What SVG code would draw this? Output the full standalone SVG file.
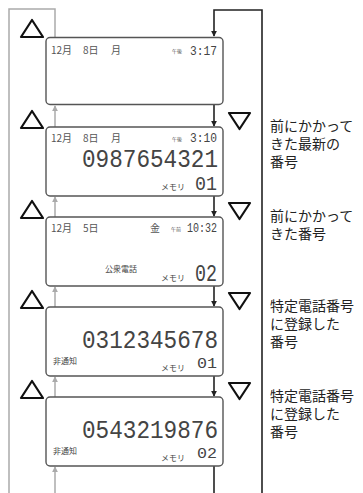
<svg xmlns="http://www.w3.org/2000/svg" width="363" height="493" viewBox="0 0 363 493">
<defs>
<marker id="ab" viewBox="0 0 8 8" refX="7" refY="4" markerWidth="6" markerHeight="6" orient="auto" markerUnits="userSpaceOnUse"><path d="M0,0 L8,4 L0,8 z" fill="#222"/></marker>
<marker id="ag" viewBox="0 0 8 8" refX="7" refY="4" markerWidth="6" markerHeight="6" orient="auto" markerUnits="userSpaceOnUse"><path d="M0,0 L8,4 L0,8 z" fill="#aaa"/></marker>
</defs>
<style>
.box{fill:#fff;stroke:#555;stroke-width:1.4}
.bl{fill:none;stroke:#222;stroke-width:1.6}
.gl{fill:none;stroke:#aaa;stroke-width:1.5}
.tri{fill:#fff;stroke:#111;stroke-width:2.2;stroke-linejoin:round}
.row{font-family:"Noto Sans CJK JP",sans-serif;font-size:10px;fill:#555}
.tiny{font-family:"Noto Sans CJK JP",sans-serif;font-size:5px;fill:#555}
.sm{font-family:"Noto Sans CJK JP",sans-serif;font-size:8px;fill:#444}
.lcd{font-family:"Liberation Mono",monospace;fill:#444;text-anchor:end}
.note{font-family:"Noto Sans CJK JP",sans-serif;font-size:14px;fill:#222}
</style>
<g id="connectors">
<polyline class="gl" points="9,493 9,9 55,9 55,37"/>
<line class="gl" x1="55" y1="127" x2="55" y2="106" marker-end="url(#ag)"/>
<line class="gl" x1="55" y1="217" x2="55" y2="197" marker-end="url(#ag)"/>
<line class="gl" x1="55" y1="307" x2="55" y2="287" marker-end="url(#ag)"/>
<line class="gl" x1="55" y1="397" x2="55" y2="377" marker-end="url(#ag)"/>
<line class="gl" x1="55" y1="493" x2="55" y2="467" marker-end="url(#ag)"/>
<polyline class="bl" points="262,493 262,10 214,10 214,36" marker-end="url(#ab)"/>
<line class="bl" x1="214" y1="105" x2="214" y2="126" marker-end="url(#ab)"/>
<line class="bl" x1="214" y1="196" x2="214" y2="216" marker-end="url(#ab)"/>
<line class="bl" x1="214" y1="286" x2="214" y2="306" marker-end="url(#ab)"/>
<line class="bl" x1="214" y1="376" x2="214" y2="396" marker-end="url(#ab)"/>
<line class="bl" x1="214" y1="466" x2="214" y2="493"/>
</g>
<g id="up-buttons">
<polygon class="tri" points="21,37 32,20 43,37"/>
<polygon class="tri" points="21,128 32,111 43,128"/>
<polygon class="tri" points="21,218 32,201 43,218"/>
<polygon class="tri" points="21,308 32,291 43,308"/>
<polygon class="tri" points="21,398 32,381 43,398"/>
</g>
<g id="down-buttons">
<polygon class="tri" points="229,113 250,113 239.5,129"/>
<polygon class="tri" points="229,203 250,203 239.5,219"/>
<polygon class="tri" points="229,293 250,293 239.5,309"/>
<polygon class="tri" points="229,383 250,383 239.5,399"/>
</g>
<g id="display1">
<rect class="box" x="46" y="37.5" width="177" height="67" rx="4"/>
<text class="row" x="51" y="53.5">12月</text>
<text class="row" x="83" y="53.5">8日</text>
<text class="row" x="111" y="53.5">月</text>
<text class="tiny" x="172" y="53">午後</text>
<text class="lcd" x="217" y="54.5" font-size="13" textLength="27" lengthAdjust="spacingAndGlyphs">3:17</text>
</g>
<g id="display2">
<rect class="box" x="46" y="127" width="177" height="69" rx="4"/>
<text class="row" x="51" y="141.5">12月</text>
<text class="row" x="83" y="141.5">8日</text>
<text class="row" x="111" y="141.5">月</text>
<text class="tiny" x="172" y="141">午後</text>
<text class="lcd" x="217" y="142" font-size="13" textLength="27" lengthAdjust="spacingAndGlyphs">3:10</text>
<text class="lcd" x="218" y="167" font-size="25" textLength="136" lengthAdjust="spacingAndGlyphs">0987654321</text>
<text class="sm" x="161" y="190">メモリ</text>
<text class="lcd" x="217" y="190" font-size="20" textLength="22" lengthAdjust="spacingAndGlyphs">01</text>
</g>
<g id="display3">
<rect class="box" x="46" y="217" width="177" height="69" rx="4"/>
<text class="row" x="51" y="231.5">12月</text>
<text class="row" x="83" y="231.5">5日</text>
<text class="row" x="150" y="231.5">金</text>
<text class="tiny" x="171" y="231">午前</text>
<text class="lcd" x="217" y="232" font-size="13" textLength="30" lengthAdjust="spacingAndGlyphs">10:32</text>
<text class="sm" x="105" y="271.5" font-size="9">公衆電話</text>
<text class="sm" x="161" y="281">メモリ</text>
<text class="lcd" x="217" y="280.5" font-size="23" textLength="22" lengthAdjust="spacingAndGlyphs">02</text>
</g>
<g id="display4">
<rect class="box" x="46" y="307" width="177" height="69" rx="4"/>
<text class="lcd" x="218" y="348" font-size="25" textLength="136" lengthAdjust="spacingAndGlyphs">0312345678</text>
<text class="sm" x="53" y="364">非通知</text>
<text class="sm" x="161" y="371">メモリ</text>
<text class="lcd" x="217" y="368" font-size="15" textLength="20" lengthAdjust="spacingAndGlyphs">01</text>
</g>
<g id="display5">
<rect class="box" x="46" y="397" width="177" height="69" rx="4"/>
<text class="lcd" x="218" y="438" font-size="25" textLength="136" lengthAdjust="spacingAndGlyphs">0543219876</text>
<text class="sm" x="53" y="454">非通知</text>
<text class="sm" x="161" y="461">メモリ</text>
<text class="lcd" x="217" y="458" font-size="15" textLength="20" lengthAdjust="spacingAndGlyphs">02</text>
</g>
<g id="notes">
<text class="note" x="270"><tspan x="270" y="130.5">前にかかって</tspan><tspan x="270" y="148.5">きた最新の</tspan><tspan x="270" y="167">番号</tspan></text>
<text class="note" x="270"><tspan x="270" y="220.5">前にかかって</tspan><tspan x="270" y="238.5">きた番号</tspan></text>
<text class="note" x="270"><tspan x="270" y="310.5">特定電話番号</tspan><tspan x="270" y="328.5">に登録した</tspan><tspan x="270" y="347">番号</tspan></text>
<text class="note" x="270"><tspan x="270" y="400.5">特定電話番号</tspan><tspan x="270" y="418.5">に登録した</tspan><tspan x="270" y="437">番号</tspan></text>
</g>
</svg>
